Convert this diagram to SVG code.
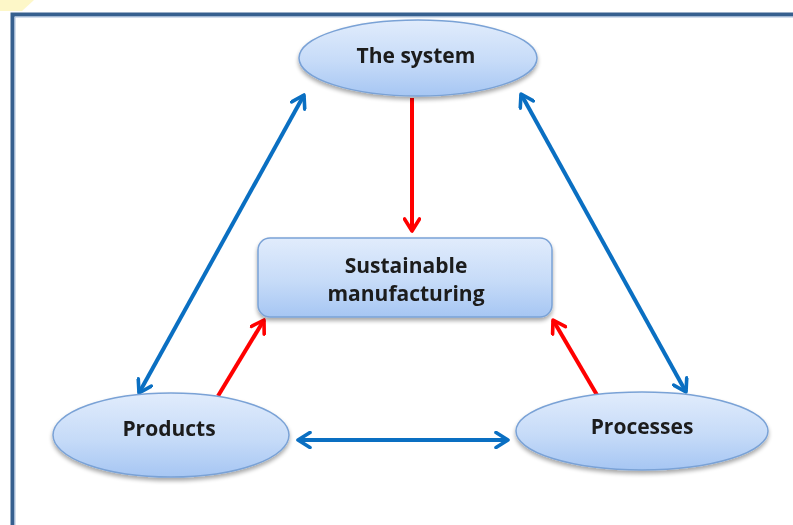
<svg xmlns="http://www.w3.org/2000/svg" width="793" height="525" viewBox="0 0 793 525">
<style>
.lbl{font-family:"Open Sans","Liberation Sans",sans-serif;font-weight:bold;font-size:21px;fill:#1a1a1a;text-anchor:middle}
.node{fill:url(#g);stroke:#7aa2d6;stroke-width:1.5}
.red{stroke:#ff0000;stroke-width:4;fill:none}
.blue{stroke:#0a6fc2;stroke-width:4;fill:none}
</style>
<defs>
<linearGradient id="g" x1="0" y1="0" x2="0" y2="1">
<stop offset="0" stop-color="#e1ecfc"/>
<stop offset="0.55" stop-color="#c6dbf8"/>
<stop offset="1" stop-color="#a6c6f3"/>
</linearGradient>
<filter id="sh" x="-10%" y="-10%" width="120%" height="130%">
<feGaussianBlur in="SourceAlpha" stdDeviation="2"/>
<feOffset dy="3"/>
<feComponentTransfer><feFuncA type="linear" slope="0.35"/></feComponentTransfer>
<feMerge><feMergeNode/><feMergeNode in="SourceGraphic"/></feMerge>
</filter>
<marker id="ar" viewBox="0 0 12 12" refX="10" refY="6" markerWidth="4.5" markerHeight="4.5" orient="auto-start-reverse" markerUnits="strokeWidth">
<polyline points="2,1 10,6 2,11" fill="none" stroke="#ff0000" stroke-width="2.4" stroke-linecap="round" stroke-linejoin="round"/>
</marker>
<marker id="ab" viewBox="0 0 12 12" refX="10" refY="6" markerWidth="4.5" markerHeight="4.5" orient="auto-start-reverse" markerUnits="strokeWidth">
<polyline points="2,1 10,6 2,11" fill="none" stroke="#0a6fc2" stroke-width="2.4" stroke-linecap="round" stroke-linejoin="round"/>
</marker>
</defs>
<rect width="793" height="525" fill="#ffffff"/>
<polygon points="0,0 34,0 22,11 0,11" fill="#fdf7c8"/>
<path d="M12.5,525 V14.5 H793" fill="none" stroke="#36608f" stroke-width="4"/>
<path d="M15,525 V17 H793" fill="none" stroke="#a9bfdc" stroke-width="1"/>
<g id="connectors">
<line class="red" x1="412" y1="98" x2="412" y2="231" marker-end="url(#ar)"/>
<line class="red" x1="218" y1="396" x2="264" y2="320" marker-end="url(#ar)"/>
<line class="red" x1="597" y1="395" x2="553" y2="320" marker-end="url(#ar)"/>
<line class="blue" x1="304" y1="95" x2="139" y2="393" marker-start="url(#ab)" marker-end="url(#ab)"/>
<line class="blue" x1="521" y1="94" x2="686" y2="392" marker-start="url(#ab)" marker-end="url(#ab)"/>
<line class="blue" x1="298" y1="440" x2="508" y2="440" marker-start="url(#ab)" marker-end="url(#ab)"/>
</g>
<g id="system" filter="url(#sh)">
<ellipse class="node" cx="418" cy="58" rx="119" ry="38"/>
<text class="lbl" x="416" y="63">The system</text>
</g>
<g id="sustainable" filter="url(#sh)">
<rect class="node" x="258" y="238" width="294" height="79" rx="12"/>
<text class="lbl" x="406" y="273">Sustainable</text>
<text class="lbl" x="406" y="301">manufacturing</text>
</g>
<g id="products" filter="url(#sh)">
<ellipse class="node" cx="171" cy="435" rx="118" ry="42"/>
<text class="lbl" x="169" y="436">Products</text>
</g>
<g id="processes" filter="url(#sh)">
<ellipse class="node" cx="642" cy="431" rx="126" ry="39"/>
<text class="lbl" x="642" y="434">Processes</text>
</g>
</svg>
